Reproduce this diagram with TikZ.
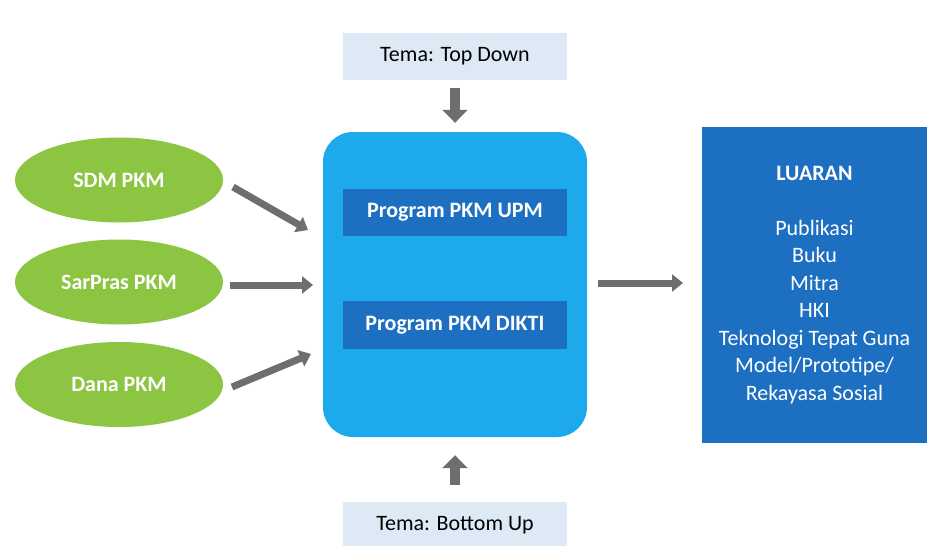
\documentclass[tikz,border=0pt]{standalone}
\usepackage{fontspec}
\setmainfont{Carlito}
\usetikzlibrary{shapes.geometric,arrows.meta}
\definecolor{lightbox}{RGB}{221,234,246}
\definecolor{centerblue}{RGB}{29,170,236}
\definecolor{darkblue}{RGB}{29,111,194}
\definecolor{leafgreen}{RGB}{139,197,66}
\definecolor{arrowgray}{RGB}{110,110,110}
\tikzset{
  txt/.style={font=\fontsize{22}{26}\selectfont},
  temabox/.style={txt, fill=lightbox, minimum width=224pt, minimum height=47pt, inner sep=0pt, text=black},
  greenell/.style={ellipse, fill=leafgreen, minimum width=208pt, minimum height=85pt, inner sep=0pt, text=white, font=\fontsize{22}{26}\selectfont\bfseries},
  progbox/.style={fill=darkblue, minimum width=224pt, minimum height=47pt, inner sep=0pt, text=white, font=\fontsize{22}{26}\selectfont\bfseries},
  harr/.style={draw=arrowgray, line width=7pt, -{Triangle[length=11pt,width=17pt]}},
  varr/.style={draw=arrowgray, line width=10pt, -{Triangle[length=13pt,width=25pt]}}
}
\begin{document}
\begin{tikzpicture}[x=1pt,y=-1pt]
\useasboundingbox (0,0) rectangle (927,546);
\fill[white] (0,0) rectangle (927,546);
% tema boxes
\node[temabox] (td) at (455,56) {Tema: Top Down};
\node[temabox, minimum height=46pt] (bu) at (455,525) {Tema: Bottom Up};
% central
\node[draw=none, fill=centerblue, rounded corners=30pt, minimum width=264pt, minimum height=305pt, inner sep=0pt] (ctr) at (455,284.5) {};
\node[progbox] (upm) at (455,212) {Program PKM UPM};
\node[progbox, minimum height=48pt] (dikti) at (455,325) {Program PKM DIKTI};
% ellipses
\node[greenell] (sdm) at (119,180) {SDM PKM};
\node[greenell] (sar) at (119,282) {SarPras PKM};
\node[greenell] (dana) at (119,384.5) {Dana PKM};
% output box
\node[fill=darkblue, minimum width=225pt, minimum height=316pt, inner sep=0pt, text=white, align=center,
      font=\fontsize{22}{27.5}\selectfont] (out) at (814.5,285)
  {\textbf{LUARAN}\\[27.5pt]Publikasi\\Buku\\Mitra\\HKI\\Teknologi Tepat Guna\\Model/Prototipe/\\Rekayasa Sosial};
% arrow end points
\coordinate (a1s) at (233,187);
\coordinate (a1e) at (308,230);
\coordinate (a2s) at (230,285);
\coordinate (a2e) at (313,285);
\coordinate (a3s) at (232,387);
\coordinate (a3e) at (311,354);
\coordinate (a4s) at (598,283);
\coordinate (a4e) at (683,283);
\draw[harr] (a1s) -- (a1e);
\draw[harr] (a2s) -- (a2e);
\draw[harr] (a3s) -- (a3e);
\draw[harr] (a4s) -- (a4e);
\draw[varr, shorten <=8pt, shorten >=9pt] (td.south) -- (ctr.north -| td.south);
\draw[varr, shorten <=17pt, shorten >=18pt] (bu.north) -- (ctr.south -| bu.north);
\end{tikzpicture}
\end{document}
